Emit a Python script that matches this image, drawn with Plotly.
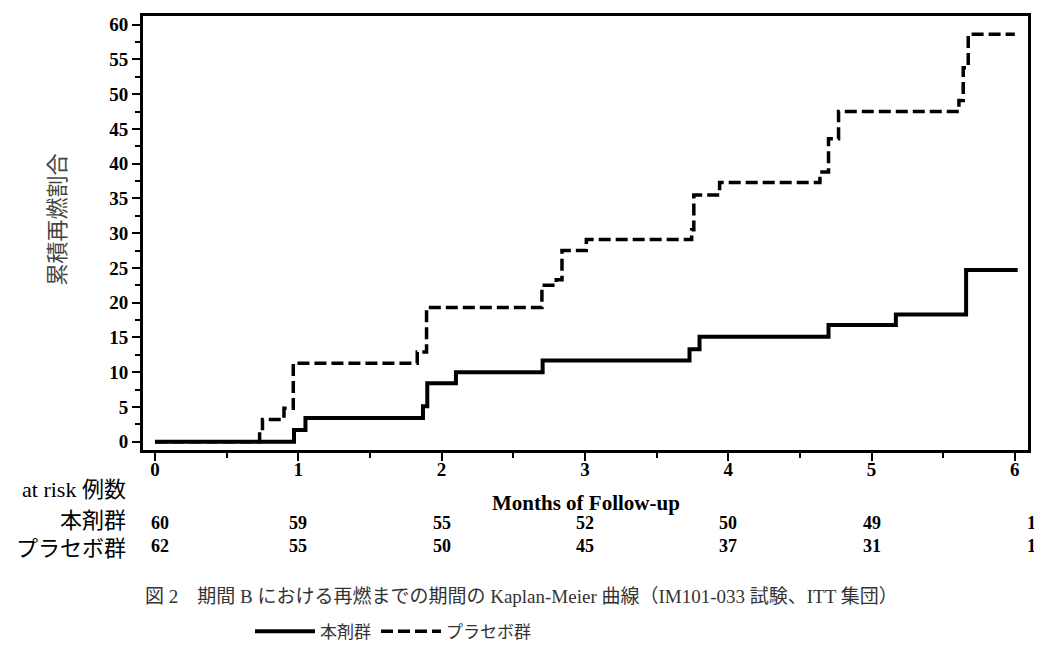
import plotly.graph_objects as go

# ---- data ----
active_t = [0, 0.97, 1.05, 1.87, 1.90, 2.10, 2.705, 3.73, 3.80, 4.70, 5.17, 5.66, 6.02]
active_y = [0, 1.7, 3.4, 5.1, 8.4, 10.0, 11.7, 13.3, 15.1, 16.8, 18.3, 24.7, 24.7]

placebo_t = [0, 0.73, 0.75, 0.90, 0.965, 1.83, 1.895, 2.70, 2.80, 2.84, 3.01,
             3.745, 3.76, 3.94, 4.64, 4.70, 4.77, 5.61, 5.64, 5.675, 6.0]
placebo_y = [0, 1.6, 3.2, 4.8, 11.3, 12.9, 19.3, 22.5, 23.3, 27.5, 29.1,
             30.5, 35.5, 37.3, 38.8, 43.6, 47.5, 49.1, 53.8, 58.6, 58.6]

risk_times = [0, 1, 2, 3, 4, 5, 6]
risk_active = [60, 59, 55, 52, 50, 49, 1]
risk_placebo = [62, 55, 50, 45, 37, 31, 1]
risk_xshift = [5, 0, 0, 0, 0, 0, 17]

x_ticks = [0, 1, 2, 3, 4, 5, 6]
y_ticks = [0, 5, 10, 15, 20, 25, 30, 35, 40, 45, 50, 55, 60]

name_active = "本剤群"
name_placebo = "プラセボ群"
y_title = "累積再燃割合"
x_title = "Months of Follow-up"
risk_title = "at risk 例数"
caption = "図 2　期間 B における再燃までの期間の Kaplan-Meier 曲線（IM101-033 試験、ITT 集団）"

# ---- layout geometry (page pixels; page body has an 8px margin) ----
OFF = 8
W, H = 1042 - OFF, 667 - OFF
PLOT_L, PLOT_R, PLOT_T, PLOT_B = 143, 1028, 13, 450
ML, MT = PLOT_L - OFF, PLOT_T - OFF
MR = W - (PLOT_R - OFF)
MB = H - (PLOT_B - OFF)
PW, PH = PLOT_R - PLOT_L, PLOT_B - PLOT_T


def py(p):
    return (PLOT_B - p) / PH


def px(p):
    return (p - PLOT_L) / PW


SERIF = "Liberation Serif, Noto Sans CJK JP"
CJK = "Noto Sans CJK JP"

fig = go.Figure()
fig.add_trace(go.Scatter(
    x=active_t, y=active_y, mode="lines", line_shape="hv",
    line=dict(color="black", width=4), name=name_active))
fig.add_trace(go.Scatter(
    x=placebo_t, y=placebo_y, mode="lines", line_shape="hv",
    line=dict(color="black", width=3.5, dash="12px,5px"), name=name_placebo))

ann = []
ann.append(dict(text=y_title, x=px(55), y=py(218), xref="paper", yref="paper",
                textangle=-90, showarrow=False, xanchor="center", yanchor="middle",
                font=dict(family=CJK, size=22, color="#444")))
ann.append(dict(text=x_title, x=0.5, y=py(503), xref="paper", yref="paper",
                showarrow=False, xanchor="center", yanchor="middle",
                font=dict(family="Liberation Serif", size=21, color="black", weight="bold")))
ann.append(dict(text=risk_title, x=px(128), y=py(490), xref="paper", yref="paper",
                showarrow=False, xanchor="right", yanchor="middle",
                font=dict(family=SERIF, size=22, color="black")))
ann.append(dict(text=name_active, x=px(128), y=py(521), xref="paper", yref="paper",
                showarrow=False, xanchor="right", yanchor="middle",
                font=dict(family=SERIF, size=22, color="black")))
ann.append(dict(text=name_placebo, x=px(128), y=py(549), xref="paper", yref="paper",
                showarrow=False, xanchor="right", yanchor="middle",
                font=dict(family=SERIF, size=22, color="black")))
for t, a, p, s in zip(risk_times, risk_active, risk_placebo, risk_xshift):
    ann.append(dict(text=str(a), x=t, y=py(524), xref="x", yref="paper", xshift=s,
                    showarrow=False, xanchor="center", yanchor="middle",
                    font=dict(family="Liberation Serif", size=18, color="black", weight="bold")))
    ann.append(dict(text=str(p), x=t, y=py(547), xref="x", yref="paper", xshift=s,
                    showarrow=False, xanchor="center", yanchor="middle",
                    font=dict(family="Liberation Serif", size=18, color="black", weight="bold")))
ann.append(dict(text=caption, x=px(521), y=py(598), xref="paper", yref="paper",
                showarrow=False, xanchor="center", yanchor="middle",
                font=dict(family=SERIF, size=19, color="#333")))

tickfont = dict(family="Liberation Serif", size=19, color="black", weight="bold")

fig.update_layout(
    width=W, height=H,
    margin=dict(l=ML, r=MR, t=MT, b=MB),
    paper_bgcolor="white", plot_bgcolor="white",
    showlegend=True,
    legend=dict(orientation="h", x=px(393), y=py(633), xanchor="center", yanchor="middle",
                font=dict(family=SERIF, size=17, color="#333"), itemwidth=60,
                bgcolor="rgba(0,0,0,0)", traceorder="normal"),
    annotations=ann,
    xaxis=dict(range=[-0.0837, 6.092], tickvals=x_ticks, ticks="outside", ticklen=8,
               tickwidth=2, tickcolor="black", showline=True, mirror=True, linewidth=3,
               linecolor="black", showgrid=False, zeroline=False, tickfont=tickfont,
               ticklabelstandoff=-8,
               minor=dict(dtick=0.5, ticks="outside", ticklen=5, tickwidth=2, tickcolor="black")),
    yaxis=dict(range=[-1.19, 61.24], tickvals=y_ticks, ticks="outside", ticklen=8,
               tickwidth=2, tickcolor="black", showline=True, mirror=True, linewidth=3,
               linecolor="black", showgrid=False, zeroline=False, tickfont=tickfont,
               minor=dict(dtick=2.5, ticks="outside", ticklen=5, tickwidth=2, tickcolor="black")),
)

fig.write_html("out.html")
